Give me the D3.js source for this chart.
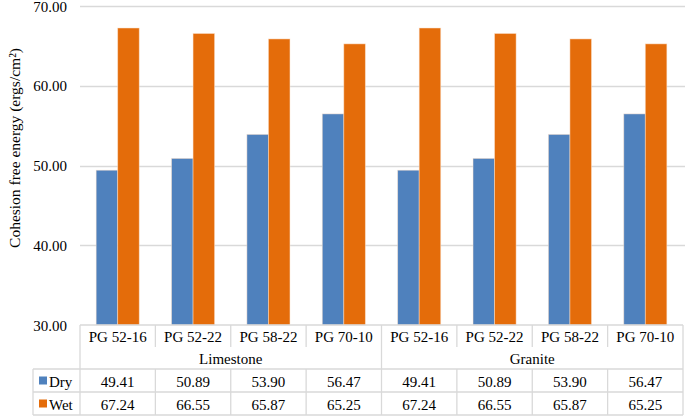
<!DOCTYPE html>
<html><head><meta charset="utf-8">
<script src="https://cdn.jsdelivr.net/npm/d3@7"></script>
<style>html,body{margin:0;padding:0;background:#fff;}svg{display:block;}
svg text{font-family:"Liberation Serif","Times New Roman","DejaVu Serif",serif !important;}</style>
</head><body>
<script>
const categories = ["PG 52-16","PG 52-22","PG 58-22","PG 70-10","PG 52-16","PG 52-22","PG 58-22","PG 70-10"];
const groups = ["Limestone","Granite"];
const seriesNames = ["Dry","Wet"];
const dryValues = [49.41,50.89,53.90,56.47,49.41,50.89,53.90,56.47];
const wetValues = [67.24,66.55,65.87,65.25,67.24,66.55,65.87,65.25];
const yTicks = [30,40,50,60,70];
const colors = {Dry:"#4f81bd", Wet:"#e46c0a"};

(function(){
const W=685,H=416;
const pLeft=80,pRight=683,pTop=6,pBottom=325;
const svg=d3.select("body").append("svg").attr("width",W).attr("height",H);

const x=d3.scaleBand().domain(d3.range(categories.length)).range([pLeft,pRight]).padding(0);
const x1=d3.scaleBand().domain(seriesNames).range([0,x.bandwidth()]).paddingInner(0).paddingOuter(0.75);
const y=d3.scaleLinear().domain([30,70]).range([pBottom,pTop]);

// gridlines
svg.append("g").selectAll("line").data(yTicks.filter(t=>t>30)).join("line")
 .attr("x1",pLeft).attr("x2",W).attr("y1",d=>Math.round(y(d))+0.5).attr("y2",d=>Math.round(y(d))+0.5)
 .attr("stroke","#d9d9d9").attr("stroke-width",1.5);

// y axis labels
const yAxis=d3.axisLeft(y).tickValues(yTicks).tickFormat(d3.format(".2f")).tickSize(0).tickPadding(0);
const ya=svg.append("g").attr("transform",`translate(${67},0)`).call(yAxis);
ya.select(".domain").remove();
ya.selectAll("text").attr("font-size",15).attr("fill","#000").attr("dy","0.34em");

// bars
const rows=categories.map((c,i)=>({i,Dry:dryValues[i],Wet:wetValues[i]}));
const g=svg.append("g");
rows.forEach(r=>{
  seriesNames.forEach(s=>{
    g.append("rect").attr("x",x(r.i)+x1(s)).attr("width",x1.bandwidth())
     .attr("y",y(r[s])).attr("height",pBottom-y(r[s]))
     .attr("fill",colors[s]).attr("stroke","#fbe3cf").attr("stroke-opacity",0.6).attr("stroke-width",0.8);
  });
});

// y title
svg.append("text").attr("transform","translate(14,148) rotate(-90)").attr("text-anchor","middle")
 .attr("dominant-baseline","central").attr("font-size",15.5).text("Cohesion free energy (ergs/cm²)");

// table
const lc="#d9d9d9";
const t=svg.append("g").attr("stroke",lc).attr("stroke-width",1.3);
const r0=325,r1=347,r2=369,r3=392,r4=415,legL=33;
function hl(xa,xb,yy){t.append("line").attr("x1",xa).attr("x2",xb).attr("y1",yy).attr("y2",yy);}
function vl(xx,ya_,yb){t.append("line").attr("x1",xx).attr("x2",xx).attr("y1",ya_).attr("y2",yb);}
hl(pLeft,pRight,r0); hl(legL,pRight,r2); hl(legL,pRight,r3); hl(legL,pRight,r4);
vl(legL,r2,r4); vl(pLeft,r0,r4); vl(pRight,r0,r4);
d3.range(1,categories.length).forEach(i=>{
  const xx=x(i);
  if(i===4) vl(xx,r0,r4); else {vl(xx,r0,r1); vl(xx,r2,r4);}
});

const tt=svg.append("g").attr("font-size",15).attr("text-anchor","middle").attr("fill","#000");
categories.forEach((c,i)=>{
  tt.append("text").attr("x",x(i)+x.bandwidth()/2).attr("y",(r0+r1)/2+1).attr("dominant-baseline","central").text(c);
  tt.append("text").attr("x",x(i)+x.bandwidth()/2).attr("y",(r2+r3)/2+1).attr("dominant-baseline","central").text(dryValues[i].toFixed(2));
  tt.append("text").attr("x",x(i)+x.bandwidth()/2).attr("y",(r3+r4)/2+1).attr("dominant-baseline","central").text(wetValues[i].toFixed(2));
});
groups.forEach((gname,gi)=>{
  const xa=x(gi*4), xb=x(gi*4+3)+x.bandwidth();
  tt.append("text").attr("x",(xa+xb)/2).attr("y",(r1+r2)/2+1).attr("dominant-baseline","central").text(gname);
});
seriesNames.forEach((s,si)=>{
  const yc= si===0?(r2+r3)/2:(r3+r4)/2;
  svg.append("rect").attr("x",39).attr("y",yc-4).attr("width",8).attr("height",8).attr("fill",colors[s]);
  svg.append("text").attr("x",49).attr("y",yc+1).attr("dominant-baseline","central").attr("font-size",15).text(s);
});
})();
</script>
</body></html>
